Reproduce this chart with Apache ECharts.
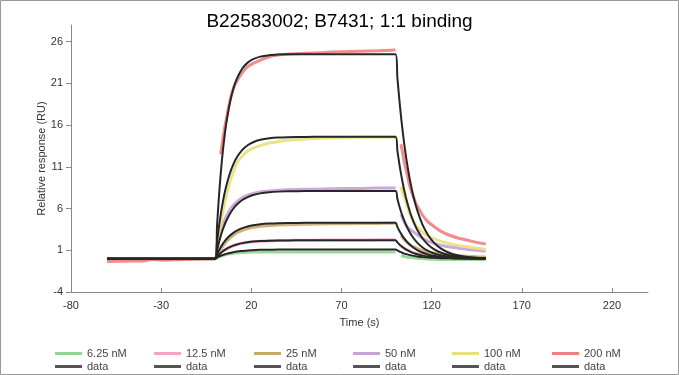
<!DOCTYPE html>
<html>
<head>
<meta charset="utf-8">
<script src="https://cdn.jsdelivr.net/npm/echarts@6/dist/echarts.min.js"></script>
<style>
html,body{margin:0;padding:0;background:#fff;}
#chart{width:679px;height:375px;}
</style>
</head>
<body>
<div id="chart"></div>
<script>
// ---- data ----
const concNames = ['6.25 nM', '12.5 nM', '25 nM', '50 nM', '100 nM', '200 nM'];
const concColors = ['#8fd48f', '#f4a6c8', '#c9aa6a', '#c89fd8', '#e8e07c', '#f08080'];

// time points of the fitted (black) curves
const fitTime = [-60,-30,0,1,2,3,4,5,6,8,10,12,15,18,21,25,30,35,40,50,60,70,80,90,100,101,102,103,104,105,106,108,110,112,115,118,121,125,130,135,140,145,150];
const fit6 = [0,0,0,0.13,0.24,0.34,0.42,0.50,0.57,0.68,0.77,0.85,0.92,0.98,1.01,1.05,1.07,1.09,1.09,1.1,1.1,1.1,1.1,1.1,1.1,0.98,0.87,0.77,0.68,0.60,0.54,0.42,0.33,0.26,0.18,0.13,0.09,0.05,0.03,0.02,0.01,0,0];
const fit12 = [0,0,0,0.26,0.48,0.68,0.86,1.01,1.15,1.38,1.56,1.70,1.86,1.96,2.04,2.10,2.15,2.17,2.18,2.2,2.2,2.2,2.2,2.2,2.2,1.95,1.73,1.53,1.36,1.21,1.07,0.84,0.66,0.52,0.36,0.25,0.18,0.11,0.06,0.03,0.02,0.01,0.01];
const fit25 = [0,0,0,0.51,0.96,1.36,1.71,2.02,2.29,2.74,3.09,3.36,3.66,3.86,4.00,4.12,4.20,4.25,4.27,4.29,4.3,4.3,4.3,4.3,4.3,3.81,3.38,3.00,2.66,2.36,2.09,1.65,1.30,1.02,0.71,0.50,0.35,0.21,0.12,0.06,0.04,0.02,0.01];
const fit50 = [0,0,0,1.02,1.91,2.69,3.37,3.96,4.48,5.33,5.98,6.48,7.02,7.38,7.62,7.82,7.96,8.03,8.06,8.09,8.1,8.1,8.1,8.1,8.1,7.18,6.37,5.65,5.01,4.45,3.94,3.10,2.44,1.92,1.34,0.93,0.65,0.40,0.22,0.12,0.07,0.04,0.02];
const fit100 = [0,0,0,2.01,3.75,5.25,6.54,7.65,8.61,10.15,11.29,12.14,13.03,13.59,13.95,14.24,14.43,14.52,14.56,14.59,14.6,14.6,14.6,14.6,14.6,12.95,11.48,10.19,9.03,8.01,7.11,5.59,4.40,3.46,2.41,1.68,1.18,0.73,0.40,0.22,0.12,0.07,0.04];
const fit200 = [0,0,0,3.97,7.30,10.09,12.43,14.39,16.03,18.55,20.33,21.57,22.78,23.49,23.90,24.21,24.38,24.45,24.48,24.5,24.5,24.5,24.5,24.5,24.5,21.73,19.27,17.09,15.16,13.45,11.93,9.38,7.38,5.80,4.05,2.83,1.97,1.22,0.67,0.37,0.20,0.11,0.06];

// time points of the measured (coloured) curves; null = no data
const dataTime = [-60,-50,-40,-35,-30,-20,-10,0,1,2,3,4,5,6,8,10,12,15,18,21,25,30,35,40,50,60,70,80,90,100,101,103,104,105,106,108,110,112,115,118,121,125,130,135,140,145,150];
const resp6 = [0,0,0,0,0,0,0,0,0.1,0.2,0.28,0.35,0.42,0.48,0.57,0.64,0.69,0.74,0.77,0.79,0.8,0.8,0.8,0.8,0.8,0.8,0.78,0.78,0.78,0.78,null,0.35,0.3,0.25,0.2,0.15,0.1,0.05,0.0,-0.05,-0.08,-0.1,-0.1,-0.1,-0.1,-0.1,-0.1];
const resp12 = [0,0,0,0,0,0,0,0,0.25,0.47,0.67,0.85,1.0,1.13,1.36,1.54,1.68,1.84,1.95,2.02,2.08,2.13,2.16,2.18,2.2,2.22,2.23,2.24,2.25,2.26,null,1.5,1.35,1.2,1.08,0.88,0.72,0.6,0.46,0.36,0.28,0.22,0.15,0.1,0.08,0.06,0.05];
const resp25 = [0,0,0,0,0,0,0,0,0.4,0.8,1.15,1.45,1.75,2.0,2.45,2.8,3.1,3.4,3.6,3.75,3.88,3.97,4.03,4.07,4.12,4.15,4.18,4.2,4.22,4.25,null,2.8,2.5,2.25,2.0,1.65,1.4,1.2,0.95,0.8,0.68,0.58,0.45,0.35,0.28,0.22,0.18];
const resp50 = [0,0,0,0,0,0,0,0,1.3,2.3,3.2,3.9,4.5,5.0,5.8,6.4,6.8,7.3,7.6,7.8,8.0,8.1,8.2,8.25,8.3,8.35,8.4,8.4,8.45,8.45,null,5.3,4.8,4.3,3.95,3.5,3.2,2.85,2.45,2.1,1.85,1.6,1.4,1.25,1.1,1.0,0.9];
const resp100 = [0,0,0,0,0,0,0,0,1.4,2.9,4.2,5.4,6.5,7.5,9.1,10.4,11.5,12.3,12.9,13.25,13.55,13.85,14.05,14.2,14.35,14.45,14.5,14.55,14.55,14.55,null,8.6,7.9,7.2,6.6,5.3,4.4,3.8,3.15,2.7,2.4,2.1,1.8,1.55,1.4,1.25,1.1];
const resp200 = [-0.35,-0.3,-0.28,-0.1,-0.2,-0.12,-0.05,0,null,null,12.5,14.0,15.4,16.6,18.8,20.4,21.3,22.3,23.0,23.4,23.8,24.2,24.4,24.5,24.6,24.7,24.8,24.85,24.9,25.0,null,13.7,12.6,11.4,10.5,8.6,7.3,6.3,5.2,4.4,3.9,3.3,2.8,2.45,2.2,1.95,1.75];

const xTicks = [-80, -30, 20, 70, 120, 170, 220];
const yTicks = [-4, 1, 6, 11, 16, 21, 26];

// ---- build ----
const FONT = 'Liberation Sans, Arial, sans-serif';
const respSets = [resp6, resp12, resp25, resp50, resp100, resp200];
const fitSets = [fit6, fit12, fit25, fit50, fit100, fit200];
const pair = (ts, vs) => ts.map((t, i) => [t, vs[i] === null ? '-' : vs[i]]);

const series = [];
respSets.forEach((vs, i) => {
  series.push({
    name: concNames[i], type: 'line', data: pair(dataTime, vs),
    showSymbol: false, symbol: 'none', smooth: 0.25, connectNulls: false,
    lineStyle: { color: concColors[i], width: 3, opacity: 0.9 },
    itemStyle: { color: concColors[i] }, z: 2, silent: true
  });
});
fitSets.forEach((vs, i) => {
  series.push({
    name: 'fit ' + concNames[i], type: 'line', data: pair(fitTime, vs),
    showSymbol: false, symbol: 'none', smooth: 0.25,
    lineStyle: { color: '#262626', width: 2 },
    itemStyle: { color: '#555' }, z: 3, silent: true
  });
});

const legends = [];
concNames.forEach((n, i) => {
  const left = Math.round(55 + i * 99.3);
  const common = {
    orient: 'horizontal', left: left, padding: 0, itemGap: 0,
    itemWidth: 27, itemHeight: 3, icon: 'rect', selectedMode: false,
    textStyle: { fontSize: 11, color: '#444', fontFamily: FONT }
  };
  legends.push(Object.assign({}, common, {
    top: 348, data: [{ name: n, itemStyle: { color: concColors[i] } }]
  }));
  legends.push(Object.assign({}, common, {
    top: 361, data: [{ name: 'fit ' + n, itemStyle: { color: '#555' } }],
    formatter: () => 'data'
  }));
});

const chart = echarts.init(document.getElementById('chart'), null, { renderer: 'canvas' });
chart.setOption({
  animation: false,
  backgroundColor: '#fff',
  title: {
    text: 'B22583002; B7431; 1:1 binding', left: 'center', top: 7,
    textStyle: { fontSize: 19, fontWeight: 'normal', color: '#000', fontFamily: FONT }
  },
  graphic: [{
    type: 'rect', shape: { x: 0.5, y: 0.5, width: 678, height: 374 },
    style: { fill: 'none', stroke: '#9a9a9a', lineWidth: 1 }, silent: true
  }],
  grid: { left: 71, right: 31, top: 25, bottom: 83, containLabel: false },
  xAxis: {
    type: 'value', min: xTicks[0], max: 240, interval: 50,
    name: 'Time (s)', nameLocation: 'middle', nameGap: 25, nameMoveOverlap: false,
    nameTextStyle: { fontSize: 11, color: '#333', fontFamily: FONT },
    axisLine: { show: true, onZero: false, lineStyle: { color: '#888', width: 1 } },
    axisTick: { show: true, inside: true, length: 4, lineStyle: { color: '#888' } },
    axisLabel: { fontSize: 11, color: '#333', margin: 8, fontFamily: FONT, showMaxLabel: false },
    splitLine: { show: false }
  },
  yAxis: {
    type: 'value', min: yTicks[0], max: 28, interval: 5,
    name: 'Relative response (RU)', nameLocation: 'middle', nameGap: 24, nameRotate: 90, nameMoveOverlap: false,
    nameTextStyle: { fontSize: 11, color: '#333', fontFamily: FONT },
    axisLine: { show: true, onZero: false, lineStyle: { color: '#888', width: 1 } },
    axisTick: { show: true, inside: false, length: 5, lineStyle: { color: '#888' } },
    axisLabel: { fontSize: 11, color: '#333', margin: 8, fontFamily: FONT, showMaxLabel: false },
    splitLine: { show: false }
  },
  legend: legends,
  series: series
});
</script>
</body>
</html>
